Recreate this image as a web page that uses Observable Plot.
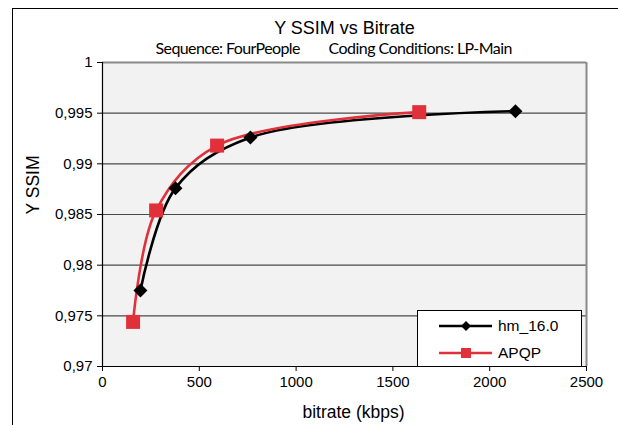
<!DOCTYPE html>
<html>
<head>
<meta charset="utf-8">
<script src="https://cdn.jsdelivr.net/npm/d3@7"></script>
<script src="https://cdn.jsdelivr.net/npm/@observablehq/plot@0.6"></script>
<style>
  body { margin: 0; background: white; }
  #wrap { position: relative; width: 618px; height: 425px; overflow: hidden; }
  #outer { position: absolute; left: 12px; top: 8px; right: -5px; bottom: -5px;
           border-left: 1.5px solid #000; border-top: 1.5px solid #000; pointer-events: none; }
  #legend { position: absolute; left: 417px; top: 310px; width: 163px; height: 55px;
            border: 1px solid #000; background: #fff; }
</style>
</head>
<body>
<div id="wrap"><div id="outer"></div></div>
<script>
// ---- data ----
const chartTitle = "Y SSIM vs Bitrate";
const subtitleLeft = "Sequence: FourPeople";
const subtitleRight = "Coding Conditions: LP-Main";
const xLabel = "bitrate (kbps)";
const yLabel = "Y SSIM";
const seriesNames = ["hm_16.0", "APQP"];
const seriesColors = ["#000000", "#e0313a"];
const bitrateHM = [196, 377, 764, 2133];
const ssimHM = [0.9775, 0.9876, 0.9926, 0.9952];
const bitrateAPQP = [158, 277, 592, 1636];
const ssimAPQP = [0.9744, 0.9854, 0.9918, 0.9951];
const xTicks = [0, 500, 1000, 1500, 2000, 2500];
const yTicks = [0.97, 0.975, 0.98, 0.985, 0.99, 0.995, 1];

const hm = bitrateHM.map((b, i) => ({bitrate: b, ssim: ssimHM[i]}));
const apqp = bitrateAPQP.map((b, i) => ({bitrate: b, ssim: ssimAPQP[i]}));
const fmtY = v => d3.format(".3~f")(v).replace(".", ",");
const fmtX = d3.format("d");

const plot = Plot.plot({
  width: 618,
  height: 425,
  marginLeft: 102,
  marginRight: 32,
  marginTop: 62,
  marginBottom: 59,
  style: {fontFamily: "'Liberation Sans', Arial, sans-serif", fontSize: "15px", background: "transparent", color: "#000"},
  x: {domain: [0, 2500]},
  y: {domain: [0.97, 1]},
  marks: [
    Plot.frame({fill: "#f2f2f2", stroke: null}),
    Plot.ruleY(yTicks.filter(v => v > 0.97 && v < 1), {stroke: "#4a4a4a", strokeWidth: 1.2}),
    Plot.ruleY([1], {stroke: "#8a8a8a", strokeWidth: 2}),
    Plot.ruleX([2500], {stroke: "#8a8a8a", strokeWidth: 2}),
    Plot.ruleX([0], {stroke: "#000", strokeWidth: 1.2}),
    Plot.ruleY([0.97], {stroke: "#000", strokeWidth: 1.2}),
    Plot.axisX({ticks: xTicks, tickFormat: fmtX, tickSize: 5, tickPadding: 5, label: null, fontSize: 15}),
    Plot.axisY({ticks: yTicks, tickFormat: fmtY, tickSize: 5, tickPadding: 5, label: null, fontSize: 15}),
    Plot.line(hm, {x: "bitrate", y: "ssim", stroke: seriesColors[0], strokeWidth: 2.6, curve: "catmull-rom"}),
    Plot.line(apqp, {x: "bitrate", y: "ssim", stroke: seriesColors[1], strokeWidth: 2.6, curve: "catmull-rom"}),
    Plot.dot(hm, {x: "bitrate", y: "ssim", symbol: "diamond2", r: 6.3, fill: seriesColors[0], stroke: null}),
    Plot.dot(apqp, {x: "bitrate", y: "ssim", symbol: "square", r: 7.9, fill: seriesColors[1], stroke: null}),
    Plot.text([chartTitle], {frameAnchor: "top", dy: -29, lineAnchor: "bottom", fontSize: 18}),
    Plot.text([subtitleLeft], {frameAnchor: "top-left", dx: 53, dy: -9, lineAnchor: "bottom", textAnchor: "start",
      fontSize: 16, fontFamily: "Lato, 'Open Sans', sans-serif", className: "subL"}),
    Plot.text([subtitleRight], {frameAnchor: "top-left", dx: 226, dy: -9, lineAnchor: "bottom", textAnchor: "start",
      fontSize: 16, fontFamily: "Lato, 'Open Sans', sans-serif", className: "subR"}),
    Plot.text([xLabel], {frameAnchor: "bottom", dx: 9, dy: 51, lineAnchor: "bottom", fontSize: 17.5}),
    Plot.text([yLabel], {frameAnchor: "left", dx: -69, rotate: -90, fontSize: 17.5})
  ]
});
const wrap = document.getElementById("wrap");
wrap.insertBefore(plot, wrap.firstChild);
d3.select(plot).selectAll("g.subL text").attr("textLength", 145);
d3.select(plot).selectAll("g.subR text").attr("textLength", 184);

// ---- legend ----
const legend = d3.select(wrap).append("div").attr("id", "legend");
const lsvg = legend.append("svg").attr("width", 163).attr("height", 55)
  .style("font-family", "'Liberation Sans', Arial, sans-serif").style("font-size", "15.5px");
const rowsY = [15, 42];
seriesNames.forEach((name, i) => {
  const g = lsvg.append("g").attr("transform", `translate(0,${rowsY[i]})`);
  g.append("line").attr("x1", 21).attr("x2", 74).attr("y1", 0).attr("y2", 0)
    .attr("stroke", seriesColors[i]).attr("stroke-width", 2.6);
  if (i === 0) {
    g.append("path").attr("d", "M48,-5L53,0L48,5L43,0Z").attr("fill", seriesColors[i]);
  } else {
    g.append("rect").attr("x", 43).attr("y", -5).attr("width", 10).attr("height", 10).attr("fill", seriesColors[i]);
  }
  g.append("text").attr("x", 80).attr("y", 0).attr("dy", "0.35em").text(name);
});
</script>
</body>
</html>
